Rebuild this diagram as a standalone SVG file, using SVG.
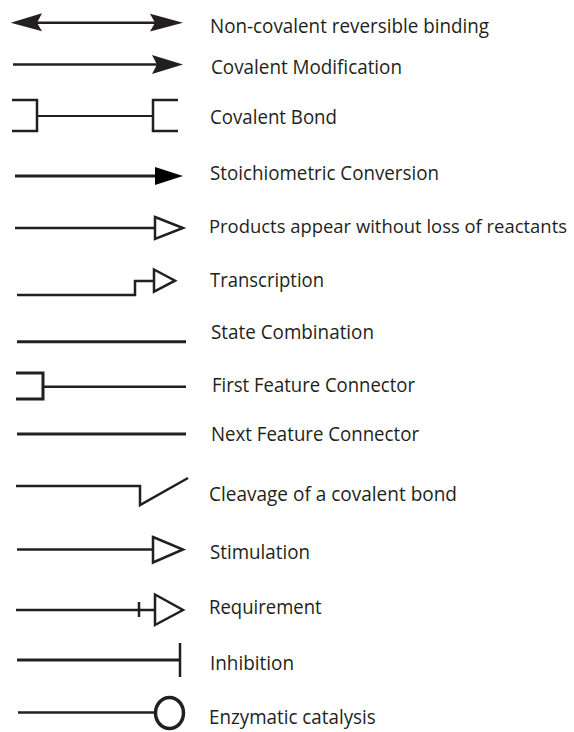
<svg xmlns="http://www.w3.org/2000/svg" width="574" height="732" viewBox="0 0 574 732">
<style>
.ln{fill:none;stroke:#231f20;stroke-width:2.5;stroke-linejoin:miter;stroke-linecap:butt}
.thin{stroke-width:2}
.thick{stroke-width:3}
.hd{fill:#231f20;stroke:none}
.open{fill:#fff;stroke:#231f20;stroke-width:2.5}
.lbl{font-family:"Open Sans","Noto Sans","Liberation Sans",sans-serif;font-size:20.5px;fill:#231f20}
</style>
<rect width="574" height="732" fill="#fff"/>
<g id="noncovalent">
<path class="ln" d="M30,22.7 H165"/>
<path class="hd" d="M10.7,22.7 L42,13.3 L37,22.7 L42,31.3 Z"/>
<path class="hd" d="M183,22.7 L150,13.8 L155,22.7 L150,31.6 Z"/>
<text class="lbl" x="210" y="33" textLength="279" lengthAdjust="spacingAndGlyphs">Non-covalent reversible binding</text>
</g>
<g id="covalent-modification">
<path class="ln" d="M13,64.5 H165"/>
<path class="hd" d="M183,64.5 L152,55 L157,64.5 L152,74 Z"/>
<text class="lbl" x="211" y="74" textLength="191" lengthAdjust="spacingAndGlyphs">Covalent Modification</text>
</g>
<g id="covalent-bond">
<path class="ln" d="M12,100 H37 V131 H12"/>
<path class="ln thin" d="M37,116 H153"/>
<path class="ln" d="M178,100 H153 V131 H178"/>
<text class="lbl" x="210" y="124.3" textLength="127" lengthAdjust="spacingAndGlyphs">Covalent Bond</text>
</g>
<g id="stoichiometric">
<path class="ln thick" d="M15,176 H160" stroke="#000"/>
<path d="M155,167 L183,176 L155,185 Z" fill="#000"/>
<text class="lbl" x="210" y="180" textLength="229" lengthAdjust="spacingAndGlyphs">Stoichiometric Conversion</text>
</g>
<g id="products">
<path class="ln" d="M15,228 H155"/>
<path class="open" d="M155,217 L183,228 L155,239 Z"/>
<text class="lbl" x="209" y="232.7" style="font-size:18.2px" textLength="358" lengthAdjust="spacingAndGlyphs">Products appear without loss of reactants</text>
</g>
<g id="transcription">
<path class="ln" d="M17,295 H135 V281 H155"/>
<path class="open" d="M154,269.5 L175,280.7 L154,291.7 Z"/>
<text class="lbl" x="210" y="287.3" textLength="114" lengthAdjust="spacingAndGlyphs">Transcription</text>
</g>
<g id="state-combination">
<path class="ln thick" d="M17,341.7 H186"/>
<text class="lbl" x="211" y="339.3" textLength="163" lengthAdjust="spacingAndGlyphs">State Combination</text>
</g>
<g id="first-feature">
<path class="ln thick" d="M16,373 H43 V399 H16"/>
<path class="ln" d="M43,386.7 H186"/>
<text class="lbl" x="212" y="391.7" textLength="203" lengthAdjust="spacingAndGlyphs">First Feature Connector</text>
</g>
<g id="next-feature">
<path class="ln thick" d="M17,434 H186"/>
<text class="lbl" x="211" y="440.7" textLength="208" lengthAdjust="spacingAndGlyphs">Next Feature Connector</text>
</g>
<g id="cleavage">
<path class="ln" d="M16,486 H140 V505 L188,478"/>
<text class="lbl" x="209" y="500.7" textLength="248" lengthAdjust="spacingAndGlyphs">Cleavage of a covalent bond</text>
</g>
<g id="stimulation">
<path class="ln" d="M17,549.5 H153"/>
<path class="open" d="M153,537 L183,549.5 L153,562.5 Z"/>
<text class="lbl" x="210" y="559.3" textLength="100" lengthAdjust="spacingAndGlyphs">Stimulation</text>
</g>
<g id="requirement">
<path class="ln" d="M16,610 H155"/>
<path class="ln" d="M139,602 V617"/>
<path class="open" d="M155,594.5 L183,610 L155,625 Z"/>
<text class="lbl" x="209" y="614.3" textLength="112.7" lengthAdjust="spacingAndGlyphs">Requirement</text>
</g>
<g id="inhibition">
<path class="ln thick" d="M17,660 H180"/>
<path class="ln" d="M180,643 V677"/>
<text class="lbl" x="210" y="670" textLength="84" lengthAdjust="spacingAndGlyphs">Inhibition</text>
</g>
<g id="enzymatic">
<path class="ln" d="M18,712.5 H154"/>
<ellipse cx="169.5" cy="713" rx="14" ry="15.5" fill="#fff" stroke="#231f20" stroke-width="3.5"/>
<text class="lbl" x="209" y="724" textLength="166.7" lengthAdjust="spacingAndGlyphs">Enzymatic catalysis</text>
</g>
</svg>
